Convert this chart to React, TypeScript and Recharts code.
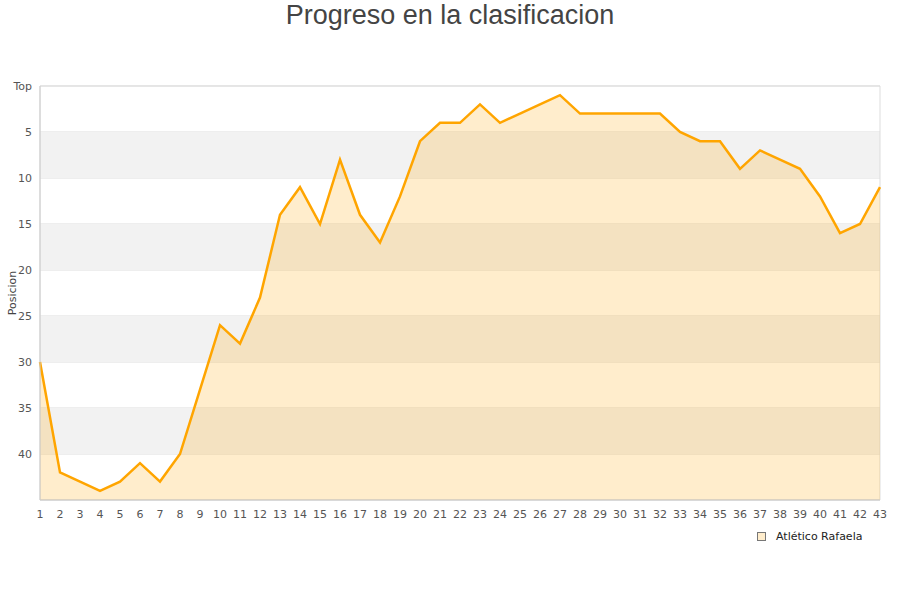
import React from 'react';
import { AreaChart, Area, XAxis, YAxis, CartesianGrid, ReferenceArea } from 'recharts';

const jornadas = [1,2,3,4,5,6,7,8,9,10,11,12,13,14,15,16,17,18,19,20,21,22,23,24,25,26,27,28,29,30,31,32,33,34,35,36,37,38,39,40,41,42,43];
const posiciones = [30,42,43,44,43,41,43,40,33,26,28,23,14,11,15,8,14,17,12,6,4,4,2,4,3,2,1,3,3,3,3,3,5,6,6,9,7,8,9,12,16,15,11];
const yTicks = [0,5,10,15,20,25,30,35,40];
const greyBands = [[5,10],[15,20],[25,30],[35,40]];
const seriesName = 'Atlético Rafaela';
const title = 'Progreso en la clasificacion';

const data = jornadas.map((j, i) => ({ jornada: j, pos: posiciones[i] }));

const tickStyle = { fontFamily: 'DejaVu Sans', fontSize: 11, fill: '#555' };

export default function App() {
  return (
    <div style={{ position: 'absolute', left: 0, top: 0, width: 900, height: 600, background: '#fff' }}>
      <div style={{ position: 'absolute', left: 0, top: 0, width: 900, textAlign: 'center', fontFamily: 'Liberation Sans', fontSize: 27, color: '#444', lineHeight: '30px' }}>
        {title}
      </div>
      <AreaChart width={900} height={600} data={data} margin={{ top: 86, right: 20, left: 0, bottom: 70 }}>
        {greyBands.map(([a, b]) => (
          <ReferenceArea key={a} y1={a} y2={b} x1={1} x2={43} fill="#f2f2f2" fillOpacity={1} stroke="none" ifOverflow="hidden" />
        ))}
        <CartesianGrid vertical={false} stroke="#dddddd" />
        <ReferenceArea y1={0} y2={45} x1={1} x2={43} fill="none" stroke="#dddddd" />
        <XAxis dataKey="jornada" type="number" domain={[1, 43]} ticks={jornadas} interval={0} height={30}
          tick={tickStyle} tickLine={false} axisLine={{ stroke: '#cccccc' }} tickMargin={4} />
        <YAxis type="number" domain={[0, 45]} reversed ticks={yTicks} interval={0} width={40}
          tick={tickStyle} tickLine={false} axisLine={{ stroke: '#cccccc' }}
          tickFormatter={(v: number) => (v === 0 ? 'Top' : String(v))}
          label={{
            content: (props: any) => {
              const vb = props.viewBox || { x: 0, y: 86, width: 40, height: 414 };
              const cx = vb.x + 12;
              const cy = vb.y + vb.height / 2;
              return (
                <text x={cx} y={cy} transform={`rotate(-90, ${cx}, ${cy})`} textAnchor="middle" dominantBaseline="central"
                  style={{ fontFamily: 'DejaVu Sans', fontSize: 11, fill: '#444' }}>Posicion</text>
              );
            },
          }} />
        <Area type="linear" dataKey="pos" name={seriesName} baseValue={45} stroke="#FFA500" strokeWidth={2.5}
          fill="#FFA500" fillOpacity={0.2} dot={false} activeDot={false} isAnimationActive={false} />
      </AreaChart>
      <div style={{ position: 'absolute', left: 757, top: 530, display: 'flex', alignItems: 'center', fontFamily: 'DejaVu Sans', fontSize: 11, color: '#222' }}>
        <span style={{ display: 'inline-block', width: 7, height: 7, background: '#FFEDCC', border: '1px solid #777', marginRight: 10 }} />
        <span>{seriesName}</span>
      </div>
    </div>
  );
}
